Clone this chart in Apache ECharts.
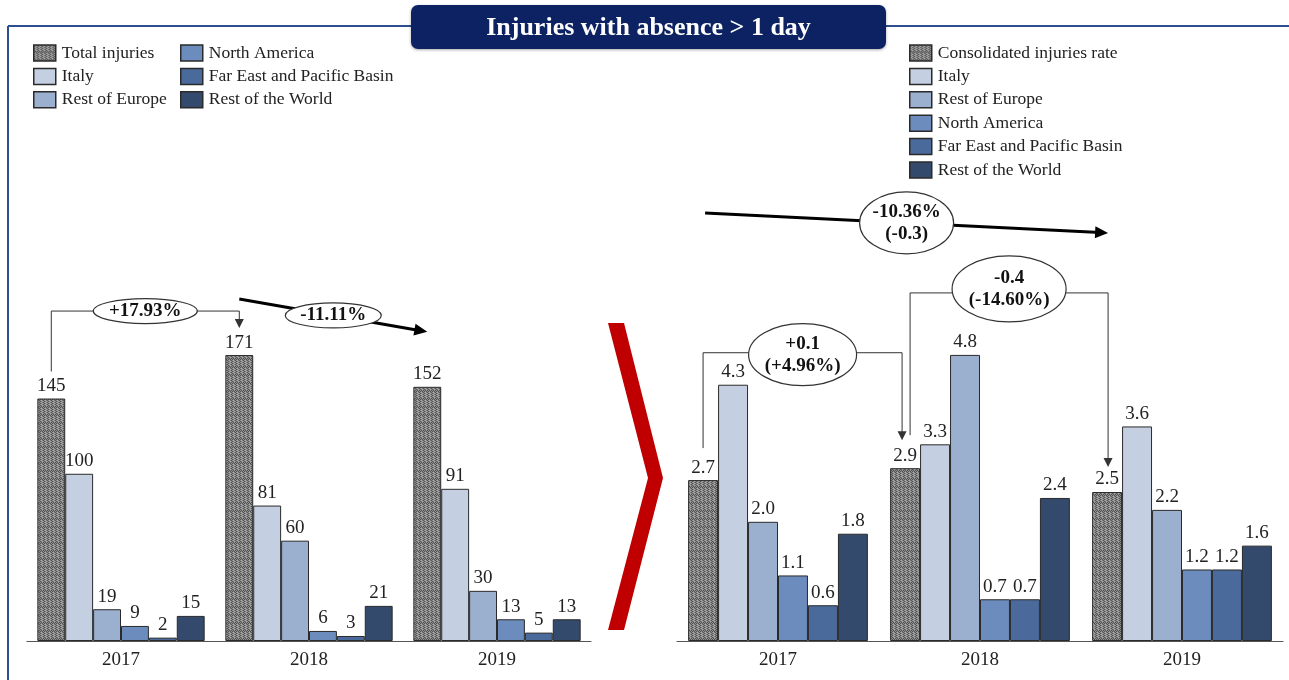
<!DOCTYPE html>
<html>
<head>
<meta charset="utf-8">
<script src="https://cdn.jsdelivr.net/npm/echarts@6/dist/echarts.min.js"></script>
<style>
html,body{margin:0;padding:0;background:#fff;}
#c{width:1289px;height:680px;}
</style>
</head>
<body>
<div id="c"></div>
<script>
// ---------- DATA ----------
const years = ['2017', '2018', '2019'];
const totalInjuries   = [145, 171, 152];
const italyInj        = [100, 81, 91];
const restEuropeInj   = [19, 60, 30];
const northAmericaInj = [9, 6, 13];
const farEastInj      = [2, 3, 5];
const restWorldInj    = [15, 21, 13];

const consolidatedRate = [2.7, 2.9, 2.5];
const italyRate        = [4.3, 3.3, 3.6];
const restEuropeRate   = [2.0, 4.8, 2.2];
const northAmericaRate = [1.1, 0.7, 1.2];
const farEastRate      = [0.6, 0.7, 1.2];
const restWorldRate    = [1.8, 2.4, 1.6];

const titleText = 'Injuries with absence > 1 day';
const leftNotes = ['+17.93%', '-11.11%'];
const rightNotes = ['+0.1\n(+4.96%)', '-0.4\n(-14.60%)', '-10.36%\n(-0.3)'];

// ---------- STYLE ----------
const FONT = "'Liberation Serif', 'DejaVu Serif', serif";
const colors = ['#c4cfe1', '#9bafcf', '#6b8cbd', '#4b6a9c', '#344a6d'];
const BORDER = '#2a2a2a';

function makePattern() {
  const cv = document.createElement('canvas');
  cv.width = 8; cv.height = 8;
  const ctx = cv.getContext('2d');
  for (let x = 0; x < 8; x++) {
    for (let y = 0; y < 8; y++) {
      const b = (x + y) % 2;
      const light = (x % 4 === 1 || x % 4 === 2) && (y % 8 < 6);
      let c;
      if (light) c = b ? '#a8a8a8' : '#7c7c7c';
      else c = b ? '#525252' : '#8e8e8e';
      ctx.fillStyle = c;
      ctx.fillRect(x, y, 1, 1);
    }
  }
  return { image: cv, repeat: 'repeat' };
}
const pattern = makePattern();

const chart = echarts.init(document.getElementById('c'), null, { renderer: 'canvas' });

const GAP = 0.11;
function barSeries(name, data, grid, color, dec) {
  return {
    name: name,
    type: 'bar',
    xAxisIndex: grid, yAxisIndex: grid,
    data: data,
    barGap: '0%',
    barCategoryGap: (GAP * 100) + '%',
    itemStyle: { color: color, borderColor: BORDER, borderWidth: 1 },
    label: {
      show: true, position: 'top', distance: 3,
      fontFamily: FONT, fontSize: 19, color: '#222',
      formatter: p => dec ? p.value.toFixed(1) : String(p.value)
    },
    emphasis: { disabled: true },
    silent: true
  };
}

const leftNames = ['Total injuries', 'Italy', 'Rest of Europe', 'North America', 'Far East and Pacific Basin', 'Rest of the World'];
const rightNames = ['Consolidated injuries rate', 'Italy', 'Rest of Europe', 'North America', 'Far East and Pacific Basin', 'Rest of the World'];
const leftData = [totalInjuries, italyInj, restEuropeInj, northAmericaInj, farEastInj, restWorldInj];
const rightData = [consolidatedRate, italyRate, restEuropeRate, northAmericaRate, farEastRate, restWorldRate];
const allColors = [pattern].concat(colors);

const series = [];
leftNames.forEach((n, i) => series.push(barSeries(n, leftData[i], 0, allColors[i], false)));
rightNames.forEach((n, i) => series.push(barSeries(n, rightData[i], 1, allColors[i], true)));

const legendCommon = {
  orient: 'vertical', itemWidth: 22, itemHeight: 16, itemGap: 5.4, padding: 0,
  icon: 'rect', selectedMode: false,
  textStyle: { fontFamily: FONT, fontSize: 17.5, lineHeight: 16, color: '#222', padding: [0, 0, 0, 1] },
  itemStyle: { borderColor: BORDER, borderWidth: 1.5 }
};

const xAxisCommon = {
  type: 'category', data: years,
  axisLine: { lineStyle: { color: '#555', width: 1.2 } },
  axisTick: { show: false },
  axisLabel: { fontFamily: FONT, fontSize: 19, color: '#222', margin: 10 }
};
const yAxisCommon = {
  type: 'value', min: 0, show: false, splitLine: { show: false }
};

chart.setOption({
  animation: false,
  backgroundColor: '#fff',
  grid: [
    { left: 27, right: 698, top: 340, bottom: 39 },
    { left: 677, right: 6, top: 343, bottom: 39 }
  ],
  xAxis: [Object.assign({ gridIndex: 0 }, xAxisCommon), Object.assign({ gridIndex: 1 }, xAxisCommon)],
  yAxis: [Object.assign({ gridIndex: 0, max: 180 }, yAxisCommon), Object.assign({ gridIndex: 1, max: 5 }, yAxisCommon)],
  legend: [
    Object.assign({ left: 33, top: 44, data: leftNames.slice(0, 3) }, legendCommon),
    Object.assign({ left: 180, top: 44, data: leftNames.slice(3) }, legendCommon),
    Object.assign({ left: 909, top: 44, data: rightNames }, legendCommon)
  ],
  series: series
});

// ---------- ANNOTATIONS (anchored to data via the axes) ----------
function catCenter(g, c) { return chart.convertToPixel({ gridIndex: g }, [c, 0])[0]; }
function yPix(g, v) { return chart.convertToPixel({ gridIndex: g }, [0, v])[1]; }
function barX(g, c, k) {
  const cw = catCenter(g, 1) - catCenter(g, 0);
  const bw = cw * (1 - GAP) / 6;
  return catCenter(g, c) + (k - 2.5) * bw;
}

const gfx = [];
const THIN = '#333';
function line(x1, y1, x2, y2, w, col) {
  gfx.push({ type: 'line', shape: { x1, y1, x2, y2 }, style: { stroke: col, lineWidth: w }, silent: true, z: 10 });
}
function polyline(pts, w, col) {
  gfx.push({ type: 'polyline', shape: { points: pts }, style: { stroke: col, lineWidth: w, fill: null }, silent: true, z: 10 });
}
function arrowHead(x1, y1, x2, y2, len, hw, col) {
  const dx = x2 - x1, dy = y2 - y1, L = Math.hypot(dx, dy);
  const ux = dx / L, uy = dy / L;
  const bx = x2 - ux * len, by = y2 - uy * len;
  gfx.push({ type: 'polygon', shape: { points: [[x2, y2], [bx - uy * hw, by + ux * hw], [bx + uy * hw, by - ux * hw]] },
    style: { fill: col }, silent: true, z: 11 });
}
function bubble(cx, cy, rx, ry, text) {
  gfx.push({ type: 'ellipse', shape: { cx, cy, rx, ry }, style: { fill: '#fff', stroke: '#333', lineWidth: 1.2 }, silent: true, z: 20 });
  gfx.push({ type: 'text', x: cx, y: cy, style: { text: text, fontFamily: FONT, fontWeight: 'bold', fontSize: 19, lineHeight: 22,
    fill: '#111', align: 'center', verticalAlign: 'middle' }, silent: true, z: 21 });
}

// Left: bracket 2017 -> 2018
(function () {
  const x1 = barX(0, 0, 0), x2 = barX(0, 1, 0);
  const yb = yPix(0, totalInjuries[0]) - 27;
  const yt = yPix(0, totalInjuries[1]) - 44;
  const tip = yPix(0, totalInjuries[1]) - 27;
  polyline([[x1, yb], [x1, yt], [x2, yt], [x2, tip - 6]], 1, THIN);
  arrowHead(x2, yt, x2, tip, 9, 4.5, THIN);
  bubble((x1 + x2) / 2, yt, 52, 12.5, leftNotes[0]);
})();
// Left: thick arrow 2018 -> 2019
(function () {
  const x1 = barX(0, 1, 0), y1 = yPix(0, totalInjuries[1]) - 56;
  const x2 = barX(0, 2, 0), y2 = yPix(0, totalInjuries[2]) - 55;
  const dx = x2 - x1, dy = y2 - y1, L = Math.hypot(dx, dy);
  line(x1, y1, x2 - dx / L * 8, y2 - dy / L * 8, 3, '#000');
  arrowHead(x1, y1, x2, y2, 13, 6, '#000');
  bubble((x1 + x2) / 2, (y1 + y2) / 2, 48, 12.5, leftNotes[1]);
})();
// Right: bracket 2017 -> 2018
(function () {
  const x1 = barX(1, 0, 0), x2 = barX(1, 1, 0) - 3;
  const yb = yPix(1, consolidatedRate[0]) - 32;
  const yt = yPix(1, italyRate[0]) - 32;
  const tip = yPix(1, consolidatedRate[1]) - 28;
  polyline([[x1, yb], [x1, yt], [x2, yt], [x2, tip - 6]], 1, THIN);
  arrowHead(x2, yt, x2, tip, 9, 4.5, THIN);
  bubble((x1 + x2) / 2, yt + 2, 54, 31, rightNotes[0]);
})();
// Right: bracket 2018 -> 2019
(function () {
  const x1 = barX(1, 1, 0) + 5, x2 = barX(1, 2, 0) + 1;
  const yb = yPix(1, consolidatedRate[1]) - 33;
  const yt = yPix(1, restEuropeRate[1]) - 62;
  const tip = yPix(1, consolidatedRate[2]) - 25;
  polyline([[x1, yb], [x1, yt], [x2, yt], [x2, tip - 6]], 1, THIN);
  arrowHead(x2, yt, x2, tip, 9, 4.5, THIN);
  bubble((x1 + x2) / 2, yt - 4, 57, 33, rightNotes[1]);
})();
// Right: long thick arrow 2017 -> 2019
(function () {
  const top = yPix(1, restEuropeRate[1]);
  const x1 = barX(1, 0, 0) + 2, y1 = top - 142;
  const x2 = barX(1, 2, 0) + 1, y2 = top - 122;
  const dx = x2 - x1, dy = y2 - y1, L = Math.hypot(dx, dy);
  line(x1, y1, x2 - dx / L * 8, y2 - dy / L * 8, 3, '#000');
  arrowHead(x1, y1, x2, y2, 13, 6, '#000');
  bubble((x1 + x2) / 2, (y1 + y2) / 2, 47, 31, rightNotes[2]);
})();

// Red chevron between the panels
gfx.push({ type: 'polygon', shape: { points: [[608, 323], [624, 323], [663, 478], [624, 630], [608, 630], [648, 478]] },
  style: { fill: '#c00000' }, silent: true, z: 5 });

// Frame and title
gfx.push({ type: 'line', shape: { x1: 8, y1: 26, x2: 1289, y2: 26 }, style: { stroke: '#2e4f8f', lineWidth: 2 }, silent: true, z: 1 });
gfx.push({ type: 'line', shape: { x1: 8, y1: 26, x2: 8, y2: 680 }, style: { stroke: '#2e4f8f', lineWidth: 2 }, silent: true, z: 1 });
gfx.push({ type: 'rect', shape: { x: 411, y: 5, width: 475, height: 44, r: 7 },
  style: { fill: '#0c2262', shadowBlur: 3, shadowColor: 'rgba(0,0,0,0.35)', shadowOffsetY: 1 }, silent: true, z: 30 });
gfx.push({ type: 'text', x: 648.5, y: 28, style: { text: titleText, fontFamily: FONT, fontWeight: 'bold', fontSize: 26,
  fill: '#fff', align: 'center', verticalAlign: 'middle' }, silent: true, z: 31 });

chart.setOption({ graphic: gfx });
</script>
</body>
</html>
